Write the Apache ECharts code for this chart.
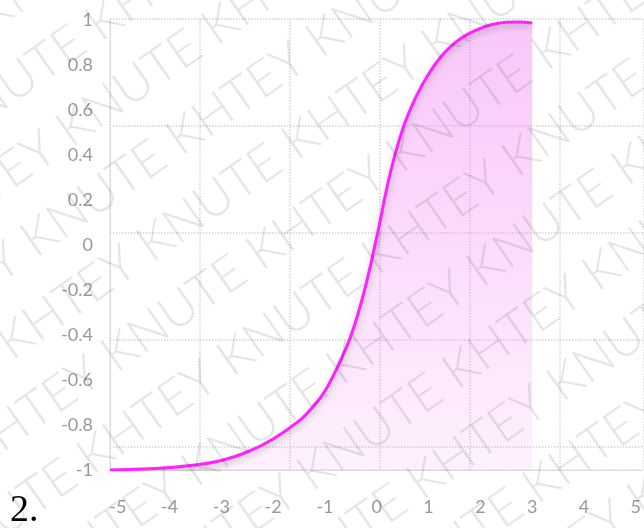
<!DOCTYPE html>
<html>
<head>
<meta charset="utf-8">
<script src="https://cdn.jsdelivr.net/npm/echarts@6/dist/echarts.min.js"></script>
<style>
html,body{margin:0;padding:0;background:#fff;}
#main{width:644px;height:528px;}
</style>
</head>
<body>
<div id="main"></div>
<script>
// curve
var xValues = [-5.15, -4.5, -4, -3.5, -3, -2.5, -2, -1.5, -1.25, -1, -0.75, -0.5, -0.25, 0, 0.25, 0.5, 0.75, 1, 1.25, 1.5, 1.75, 2, 2.25, 2.5, 2.75, 3];
var yValues = [-1.0, -0.996, -0.989, -0.978, -0.958, -0.92, -0.862, -0.782, -0.724, -0.649, -0.538, -0.404, -0.213, 0.036, 0.31, 0.515, 0.655, 0.76, 0.84, 0.897, 0.936, 0.963, 0.981, 0.99, 0.991, 0.987];
var xTickLabels = [-5, -4, -3, -2, -1, 0, 1, 2, 3, 4, 5];
var watermarkWords = ['KNUTE', 'KHTEY'];
var figureLabel = '2.';

var chart = echarts.init(document.getElementById('main'));

var points = [];
for (var i = 0; i < xValues.length; i++) {
	points.push([xValues[i], yValues[i]]);
}

// watermark rows
var wmRows = [];
for (var k = -10; k <= 10; k++) {
	var s = '';
	for (var j = 0; j < 9; j++) {
		s += watermarkWords[Math.abs(j + k) % 2] + ' ';
	}
	wmRows.push({
		type: 'text',
		x: (Math.abs(k) % 2) * 85 - 460,
		y: k * 70,
		z: 100,
		style: {text: s, fill: 'rgba(0,0,0,0.1)', fontSize: 50, fontFamily: 'Lato', fontWeight: 300}
	});
}

var option = {
	animation: false,
	grid: [
		{left: 110, right: 0, top: 20, bottom: 58},
		{left: 110, right: 0, top: 19, bottom: 58}
	],
	xAxis: [
		{
			type: 'value',
			gridIndex: 0,
			min: -5.15,
			max: 5.1,
			axisLine: {onZero: false, lineStyle: {color: '#dcdcdc'}},
			axisTick: {show: false},
			splitLine: {show: false},
			axisLabel: {customValues: xTickLabels, color: '#999', fontSize: 18, fontFamily: 'Lato', margin: 28}
		},
		{
			type: 'value',
			gridIndex: 1,
			min: 0,
			max: 534,
			interval: 90,
			axisLine: {show: false},
			axisTick: {show: false},
			axisLabel: {show: false},
			splitLine: {show: true, lineStyle: {color: '#d4d4d4', type: 'dotted', width: 1.5}}
		}
	],
	yAxis: [
		{
			type: 'value',
			gridIndex: 0,
			min: -1,
			max: 1,
			interval: 0.2,
			axisLine: {show: true, onZero: false, lineStyle: {color: '#dcdcdc'}},
			axisTick: {show: false},
			splitLine: {show: false},
			axisLabel: {color: '#999', fontSize: 18, fontFamily: 'Lato', margin: 17}
		},
		{
			type: 'value',
			gridIndex: 1,
			inverse: true,
			min: 0,
			max: 451,
			interval: 107,
			axisLine: {show: false},
			axisTick: {show: false},
			axisLabel: {show: false},
			splitLine: {show: true, lineStyle: {color: '#d4d4d4', type: 'dotted', width: 1.5}}
		}
	],
	series: [
		{
			type: 'line',
			xAxisIndex: 0,
			yAxisIndex: 0,
			data: points,
			smooth: 0.4,
			symbol: 'none',
			z: 5,
			lineStyle: {color: '#ff22ff', width: 3, shadowColor: 'rgba(0,0,0,0.25)', shadowBlur: 6, shadowOffsetY: 3},
			areaStyle: {
				origin: 'start',
				color: new echarts.graphic.LinearGradient(0, 0, 0, 1, [
					{offset: 0, color: 'rgba(240,120,240,0.6)'},
					{offset: 1, color: 'rgba(240,120,240,0.15)'}
				])
			}
		}
	],
	graphic: [
		{type: 'group', x: 300, y: 280, rotation: 35 * Math.PI / 180, silent: true, z: 100, children: wmRows},
		{type: 'text', left: 10, top: 492, z: 101, style: {text: figureLabel, fill: '#000', fontSize: 38, fontFamily: 'Liberation Serif'}}
	]
};
chart.setOption(option);
</script>
</body>
</html>
